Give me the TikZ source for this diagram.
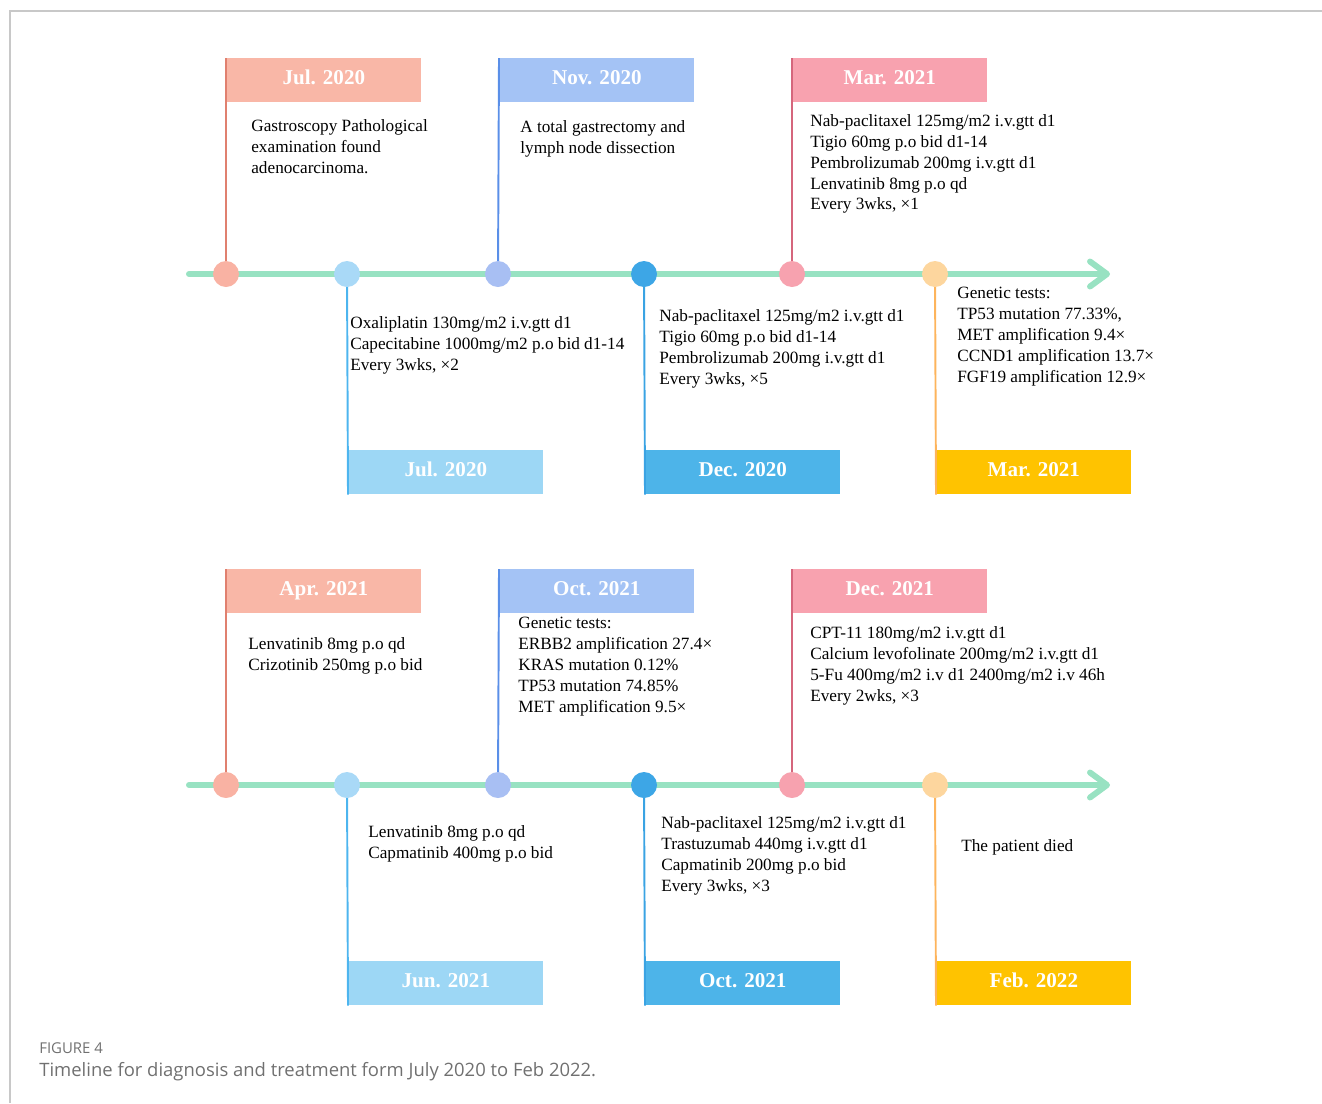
\documentclass[tikz,border=0pt]{standalone}
\usepackage{fontspec}
\setmainfont{Liberation Serif}
\newfontfamily\capfont{Open Sans}
\usetikzlibrary{arrows.meta}

\definecolor{tlgreen}{HTML}{98E2C2}
\definecolor{framegray}{HTML}{C8C8C8}
\definecolor{capgray}{HTML}{707070}
\definecolor{salmon}{HTML}{F9B7A7}
\definecolor{salmonline}{HTML}{E0806F}
\definecolor{peri}{HTML}{A4C3F5}
\definecolor{periline}{HTML}{5A8FE8}
\definecolor{rose}{HTML}{F8A2AF}
\definecolor{roseline}{HTML}{D5667C}
\definecolor{skyblue}{HTML}{9DD7F5}
\definecolor{skyline}{HTML}{4DB5EF}
\definecolor{midblue}{HTML}{4DB4E9}
\definecolor{midline}{HTML}{3AA3E3}
\definecolor{gold}{HTML}{FFC300}
\definecolor{goldline}{HTML}{FDB45C}
\definecolor{dotsalmon}{HTML}{F9B2A3}
\definecolor{dotsky}{HTML}{A9D9F7}
\definecolor{dotperi}{HTML}{A8BFF3}
\definecolor{dotblue}{HTML}{3DA6E6}
\definecolor{dotrose}{HTML}{F7A2AF}
\definecolor{dotpeach}{HTML}{FDD69E}

\begin{document}
\begin{tikzpicture}[x=0.02cm,y=-0.02cm,
    dot/.style={circle,fill=#1,minimum size=0.52cm,inner sep=0},
    flag/.style={fill=#1,minimum width=3.9cm,minimum height=0.88cm,anchor=north west,
      inner sep=0,text height=8.2pt,text depth=3.4pt,text=white,
      font=\fontsize{12}{14}\selectfont\bfseries},
    info/.style={anchor=north west,align=left,inner sep=0,font=\fontsize{9.8}{11.9}\selectfont},
    pole/.style={draw=#1,line width=1.1pt},
    axis/.style={draw=tlgreen,line width=3.4pt,line cap=round,
      -{Straight Barb[length=3.4mm,width=5mm,round]}}]

\useasboundingbox (0,0) rectangle (1322,1103);
\draw[framegray,line width=0.6pt] (10,1103) -- (10,11) -- (1322,11);

% first row
\coordinate (a1) at (226,274);
\coordinate (a2) at (347,274);
\coordinate (a3) at (498,274);
\coordinate (a4) at (644,274);
\coordinate (a5) at (792,274);
\coordinate (a6) at (935,274);
\coordinate (s1) at (189,274);
\coordinate (e1) at (1110,274);
\draw[axis] (s1) -- (e1);

\node[flag=salmon] (h1) at (226,58) {Jul. 2020};
\node[flag=peri] (h3) at (499,58) {Nov. 2020};
\node[flag=rose] (h5) at (792,58) {Mar. 2021};
\node[flag=skyblue] (h2) at (348,450) {Jul. 2020};
\node[flag=midblue] (h4) at (645,450) {Dec. 2020};
\node[flag=gold] (h6) at (936,450) {Mar. 2021};

\draw[pole=salmonline] (a1) -- (h1.north west);
\draw[pole=skyline] (a2) -- (h2.south west);
\draw[pole=periline] (a3) -- (h3.north west);
\draw[pole=midline] (a4) -- (h4.south west);
\draw[pole=roseline] (a5) -- (h5.north west);
\draw[pole=goldline] (a6) -- (h6.south west);

\node[dot=dotsalmon] (d1) at (a1) {};
\node[dot=dotsky] (d2) at (a2) {};
\node[dot=dotperi] (d3) at (a3) {};
\node[dot=dotblue] (d4) at (a4) {};
\node[dot=dotrose] (d5) at (a5) {};
\node[dot=dotpeach] (d6) at (a6) {};

\node[info] (t1) at (251,119) {Gastroscopy Pathological\\examination found\\adenocarcinoma.};
\node[info] (t3) at (520,120) {A total gastrectomy and\\lymph node dissection};
\node[info] (t5) at (810,114) {Nab-paclitaxel 125mg/m2 i.v.gtt d1\\Tigio 60mg p.o bid d1-14\\Pembrolizumab 200mg i.v.gtt d1\\Lenvatinib 8mg p.o qd\\Every 3wks, ×1};
\node[info] (t2) at (350,316) {Oxaliplatin 130mg/m2 i.v.gtt d1\\Capecitabine 1000mg/m2 p.o bid d1-14\\Every 3wks, ×2};
\node[info] (t4) at (659,309) {Nab-paclitaxel 125mg/m2 i.v.gtt d1\\Tigio 60mg p.o bid d1-14\\Pembrolizumab 200mg i.v.gtt d1\\Every 3wks, ×5};
\node[info] (t6) at (957,287) {Genetic tests:\\TP53 mutation 77.33\%,\\MET amplification 9.4×\\CCND1 amplification 13.7×\\FGF19 amplification 12.9×};

% second row
\coordinate (b1) at (226,785);
\coordinate (b2) at (347,785);
\coordinate (b3) at (498,785);
\coordinate (b4) at (644,785);
\coordinate (b5) at (792,785);
\coordinate (b6) at (935,785);
\coordinate (s2) at (189,785);
\coordinate (e2) at (1110,785);
\draw[axis] (s2) -- (e2);

\node[flag=salmon] (h7) at (226,569) {Apr. 2021};
\node[flag=peri] (h9) at (499,569) {Oct. 2021};
\node[flag=rose] (h11) at (792,569) {Dec. 2021};
\node[flag=skyblue] (h8) at (348,961) {Jun. 2021};
\node[flag=midblue] (h10) at (645,961) {Oct. 2021};
\node[flag=gold] (h12) at (936,961) {Feb. 2022};

\draw[pole=salmonline] (b1) -- (h7.north west);
\draw[pole=skyline] (b2) -- (h8.south west);
\draw[pole=periline] (b3) -- (h9.north west);
\draw[pole=midline] (b4) -- (h10.south west);
\draw[pole=roseline] (b5) -- (h11.north west);
\draw[pole=goldline] (b6) -- (h12.south west);

\node[dot=dotsalmon] (d7) at (b1) {};
\node[dot=dotsky] (d8) at (b2) {};
\node[dot=dotperi] (d9) at (b3) {};
\node[dot=dotblue] (d10) at (b4) {};
\node[dot=dotrose] (d11) at (b5) {};
\node[dot=dotpeach] (d12) at (b6) {};

\node[info] (t7) at (248,637) {Lenvatinib 8mg p.o qd\\Crizotinib 250mg p.o bid};
\node[info] (t9) at (518,617) {Genetic tests:\\ERBB2 amplification 27.4×\\KRAS mutation 0.12\%\\TP53 mutation 74.85\%\\MET amplification 9.5×};
\node[info] (t11) at (810,626) {CPT-11 180mg/m2 i.v.gtt d1\\Calcium levofolinate 200mg/m2 i.v.gtt d1\\5-Fu 400mg/m2 i.v d1 2400mg/m2 i.v 46h\\Every 2wks, ×3};
\node[info] (t8) at (368,825) {Lenvatinib 8mg p.o qd\\Capmatinib 400mg p.o bid};
\node[info] (t10) at (661,816) {Nab-paclitaxel 125mg/m2 i.v.gtt d1\\Trastuzumab 440mg i.v.gtt d1\\Capmatinib 200mg p.o bid\\Every 3wks, ×3};
\node[info] (t12) at (961,839) {The patient died};

% caption
\node[anchor=base west,inner sep=0,text=capgray,font=\capfont\fontsize{8.5}{10}\selectfont] (fig) at (39,1053) {FIGURE 4};
\node[anchor=base west,inner sep=0,text=capgray,font=\capfont\fontsize{10.5}{12}\selectfont] (cap) at (39,1076) {Timeline for diagnosis and treatment form July 2020 to Feb 2022.};
\end{tikzpicture}
\end{document}
